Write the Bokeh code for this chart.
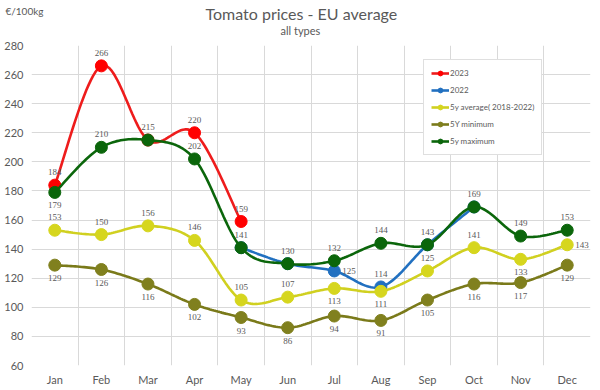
from bokeh.plotting import figure
from bokeh.models import (ColumnDataSource, LabelSet, Legend, LegendItem,
                          FixedTicker, Range1d, Title)
from bokeh.embed import file_html
from bokeh.resources import INLINE

# ---------------- data ----------------
months = ["Jan", "Feb", "Mar", "Apr", "May", "Jun", "Jul", "Aug", "Sep", "Oct", "Nov", "Dec"]
y2023 = [184, 266, 215, 220, 159, None, None, None, None, None, None, None]
y2022 = [None, None, None, None, 141, 130, 125, 114, 143, 169, None, None]
avg5y = [153, 150, 156, 146, 105, 107, 113, 111, 125, 141, 133, 143]
min5y = [129, 126, 116, 102, 93, 86, 94, 91, 105, 116, 117, 129]
max5y = [179, 210, 215, 202, 141, 130, 132, 144, 143, 169, 149, 153]
y_ticks = [60, 80, 100, 120, 140, 160, 180, 200, 220, 240, 260, 280]

# label placement (style): a = above, b = below, r = right, n = none
pos2023 = ["a", "a", "n", "a", "a", "n", "n", "n", "n", "n", "n", "n"]
pos2022 = ["n", "n", "n", "n", "n", "n", "r", "a", "n", "n", "n", "n"]
posavg = ["a", "a", "a", "a", "a", "a", "b", "b", "a", "a", "b", "r"]
posmin = ["b"] * 12
posmax = ["b", "a", "a", "a", "a", "a", "a", "a", "a", "a", "a", "a"]

FONT = "Lato"
TXT = "#595959"

p = figure(frame_width=559, frame_height=320, output_backend="svg", toolbar_location=None,
           x_range=Range1d(-0.5, 11.5), y_range=Range1d(60, 280),
           min_border_left=31, min_border_right=2, min_border_top=45, min_border_bottom=24)
p.outline_line_color = None
p.background_fill_color = "white"
p.border_fill_color = "white"

# header rows, stacked from the plot frame outward:
# subtitle, main title, unit label; the plot's own (blank) title only absorbs spare space
p.title.text = " "
p.title.text_font_size = "10px"
p.title.standoff = -7
p.add_layout(Title(text="all types", align="left", offset=249, text_font=FONT,
                   text_font_size="11px", text_font_style="normal", text_color=TXT,
                   standoff=17), "above")
p.add_layout(Title(text="Tomato prices - EU average", align="left", offset=174, text_font=FONT,
                   text_font_size="16px", text_font_style="normal", text_color=TXT,
                   standoff=-19), "above")
p.add_layout(Title(text="€/100kg", align="left", offset=-26, text_font=FONT,
                   text_font_size="10px", text_font_style="normal", text_color=TXT,
                   standoff=-10), "above")

# axes
p.xaxis.ticker = FixedTicker(ticks=list(range(12)))
p.xaxis.major_label_overrides = {i: m for i, m in enumerate(months)}
p.yaxis.ticker = FixedTicker(ticks=y_ticks)
for ax in (p.xaxis[0], p.yaxis[0]):
    ax.axis_line_color = None
    ax.major_tick_line_color = None
    ax.minor_tick_line_color = None
    ax.major_tick_out = 0
    ax.major_tick_in = 0
    ax.major_label_text_font = FONT
    ax.major_label_text_font_size = "11px"
    ax.major_label_text_color = TXT
p.yaxis.major_label_standoff = 8
p.xaxis.major_label_standoff = 7

p.xgrid.ticker = FixedTicker(ticks=[i - 0.5 for i in range(13)])
p.xgrid.grid_line_color = "#d9d9d9"
p.ygrid.grid_line_color = "#d9d9d9"


def smooth(vals, n=24):
    """Excel-like smoothed line (Catmull-Rom style Bezier) through the data points."""
    xs, ys = [], []
    idx = [i for i, v in enumerate(vals) if v is not None]
    pts = [(float(i), float(vals[i])) for i in idx]
    m = len(pts)
    for k in range(m - 1):
        p0 = pts[k - 1] if k > 0 else pts[k]
        p1 = pts[k]
        p2 = pts[k + 1]
        p3 = pts[k + 2] if k + 2 < m else pts[k + 1]
        c1 = (p1[0] + (p2[0] - p0[0]) / 6, p1[1] + (p2[1] - p0[1]) / 6)
        c2 = (p2[0] - (p3[0] - p1[0]) / 6, p2[1] - (p3[1] - p1[1]) / 6)
        for j in range(n + 1):
            if k > 0 and j == 0:
                continue
            t = j / n
            a = (1 - t) ** 3
            b = 3 * (1 - t) ** 2 * t
            c = 3 * (1 - t) * t ** 2
            d = t ** 3
            xs.append(a * p1[0] + b * c1[0] + c * c2[0] + d * p2[0])
            ys.append(a * p1[1] + b * c1[1] + c * c2[1] + d * p2[1])
    return xs, ys


series = [
    ("2023", y2023, "#ee1c1c", "#ff0000", pos2023),
    ("2022", y2022, "#2170c0", "#2170c0", pos2022),
    ("5y average( 2018-2022)", avg5y, "#d0d020", "#d6d61e", posavg),
    ("5Y minimum", min5y, "#7a7a1a", "#80801e", posmin),
    ("5y maximum", max5y, "#0b660b", "#0b660b", posmax),
]

items = []
label_sets = []
for name, vals, lc, mc, pos in series:
    xs, ys = smooth(vals)
    lr = p.line(xs, ys, line_color=lc, line_width=2.6)
    px = [i for i, v in enumerate(vals) if v is not None]
    py = [v for v in vals if v is not None]
    sr = p.scatter(px, py, size=12, fill_color=mc, line_color=mc)
    items.append(LegendItem(label=name, renderers=[lr, sr]))

    lx, lyv, lt, xo, yo, al = [], [], [], [], [], []
    for i, v in enumerate(vals):
        if v is None or pos[i] == "n":
            continue
        lx.append(i)
        lyv.append(v)
        lt.append(str(v))
        if pos[i] == "a":
            xo.append(0); yo.append(13); al.append("center")
        elif pos[i] == "b":
            xo.append(0); yo.append(-13); al.append("center")
        else:
            xo.append(8); yo.append(0); al.append("left")
    src = ColumnDataSource(dict(x=lx, y=lyv, t=lt, xo=xo, yo=yo, al=al))
    label_sets.append(LabelSet(x="x", y="y", text="t", source=src, x_offset="xo", y_offset="yo",
                               text_align="al", text_baseline="middle",
                               text_font=FONT, text_font_size="9px", text_color=TXT))

for ls in label_sets:
    p.add_layout(ls)

legend = Legend(items=items, location=(392, 210), orientation="vertical")
legend.label_text_font = FONT
legend.label_text_font_size = "8px"
legend.label_text_color = TXT
legend.glyph_width = 18
legend.glyph_height = 12
legend.label_height = 12
legend.spacing = 5
legend.padding = 7
legend.margin = 0
legend.label_standoff = 1
legend.border_line_color = "#bfbfbf"
legend.background_fill_alpha = 1
p.add_layout(legend, "center")

open("out.html", "w").write(file_html(p, INLINE))
